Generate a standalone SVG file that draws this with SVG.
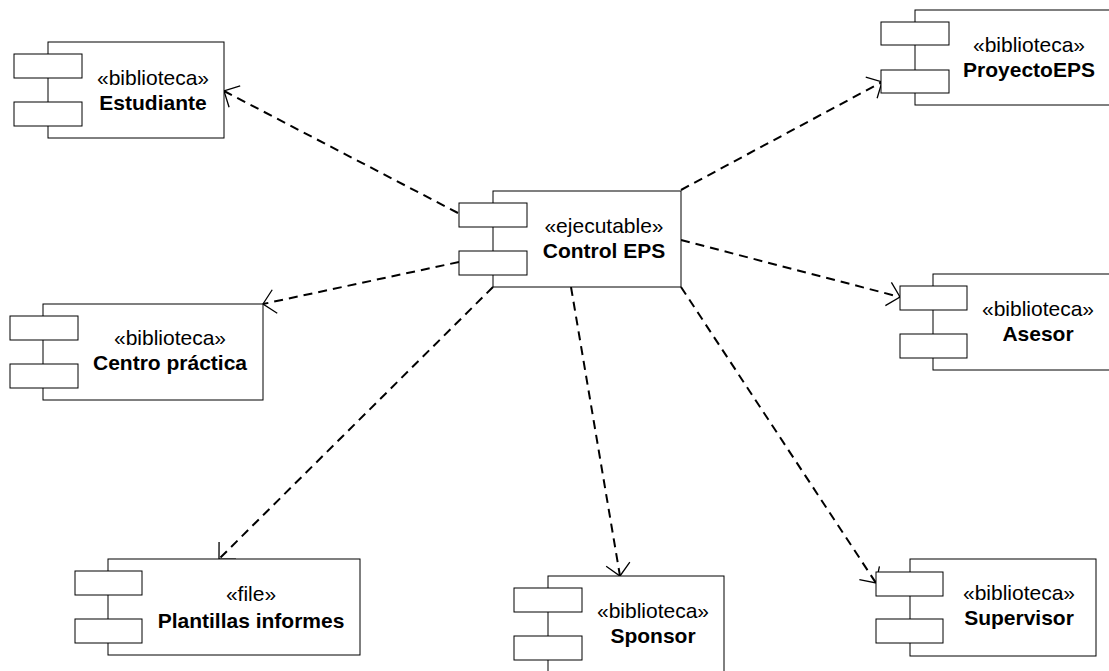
<svg xmlns="http://www.w3.org/2000/svg" width="1109" height="671" viewBox="0 0 1109 671">
  <style>
    .body { fill: #ffffff; stroke: #000000; stroke-width: 1; }
    .port { fill: #ffffff; stroke: #000000; stroke-width: 1; }
    .stereo { font-family: "Liberation Sans", Arial, sans-serif; font-size: 21px; fill: #000000; text-anchor: middle; }
    .name { font-family: "Liberation Sans", Arial, sans-serif; font-size: 21px; font-weight: bold; fill: #000000; text-anchor: middle; }
    .dep { fill: none; stroke: #000000; stroke-width: 2; stroke-dasharray: 9 6; }
  </style>
  <defs>
    <marker id="open-arrow" viewBox="-14 -14 16 28" refX="0" refY="0" markerWidth="16" markerHeight="28" markerUnits="userSpaceOnUse" orient="auto">
      <path d="M -12 -12 L 0 0 L -12 12" fill="none" stroke="#000000" stroke-width="1.3"/>
    </marker>
  </defs>

  <rect width="1109" height="671" fill="#ffffff"/>

  <!-- dependency connectors -->
  <g id="connectors">
    <line class="dep" x1="458" y1="213" x2="224" y2="91" marker-end="url(#open-arrow)"/>
    <line class="dep" x1="681" y1="190" x2="882" y2="82" marker-end="url(#open-arrow)"/>
    <line class="dep" x1="459" y1="262" x2="263" y2="304" marker-end="url(#open-arrow)"/>
    <line class="dep" x1="681" y1="240" x2="900" y2="297" marker-end="url(#open-arrow)"/>
    <line class="dep" x1="493" y1="287" x2="219" y2="559" marker-end="url(#open-arrow)"/>
    <line class="dep" x1="571" y1="287" x2="620" y2="576" marker-end="url(#open-arrow)"/>
    <line class="dep" x1="681" y1="287" x2="876" y2="583" marker-end="url(#open-arrow)"/>
  </g>

  <!-- executable -->
  <g id="control-eps">
    <rect class="body" x="493" y="191" width="188" height="96"/>
    <rect class="port" x="459" y="203" width="68" height="24"/>
    <rect class="port" x="459" y="251" width="68" height="24"/>
    <text class="stereo" x="604" y="233">«ejecutable»</text>
    <text class="name" x="604" y="258">Control EPS</text>
  </g>

  <!-- libraries -->
  <g id="estudiante">
    <rect class="body" x="48" y="42" width="176" height="96"/>
    <rect class="port" x="14" y="54" width="68" height="24"/>
    <rect class="port" x="14" y="102" width="68" height="24"/>
    <text class="stereo" x="153" y="85">«biblioteca»</text>
    <text class="name" x="153" y="110">Estudiante</text>
  </g>

  <g id="proyecto-eps">
    <rect class="body" x="915" y="10" width="200" height="95"/>
    <rect class="port" x="881" y="22" width="68" height="23"/>
    <rect class="port" x="881" y="70" width="68" height="23"/>
    <text class="stereo" x="1029" y="52">«biblioteca»</text>
    <text class="name" x="1029" y="77">ProyectoEPS</text>
  </g>

  <g id="centro-practica">
    <rect class="body" x="43" y="304" width="220" height="96"/>
    <rect class="port" x="10" y="316" width="68" height="24"/>
    <rect class="port" x="10" y="364" width="68" height="24"/>
    <text class="stereo" x="170" y="345">«biblioteca»</text>
    <text class="name" x="170" y="370">Centro práctica</text>
  </g>

  <g id="asesor">
    <rect class="body" x="933" y="274" width="190" height="96"/>
    <rect class="port" x="900" y="286" width="67" height="24"/>
    <rect class="port" x="900" y="334" width="67" height="24"/>
    <text class="stereo" x="1038" y="316">«biblioteca»</text>
    <text class="name" x="1038" y="341">Asesor</text>
  </g>

  <g id="plantillas-informes">
    <rect class="body" x="108" y="559" width="252" height="96"/>
    <rect class="port" x="75" y="571" width="67" height="24"/>
    <rect class="port" x="75" y="619" width="67" height="24"/>
    <text class="stereo" x="251" y="601">«file»</text>
    <text class="name" x="251" y="628">Plantillas informes</text>
  </g>

  <g id="sponsor">
    <rect class="body" x="548" y="576" width="176" height="100"/>
    <rect class="port" x="514" y="588" width="68" height="24"/>
    <rect class="port" x="514" y="636" width="68" height="24"/>
    <text class="stereo" x="653" y="618">«biblioteca»</text>
    <text class="name" x="653" y="643">Sponsor</text>
  </g>

  <g id="supervisor">
    <rect class="body" x="910" y="559" width="186" height="97"/>
    <rect class="port" x="876" y="572" width="67" height="24"/>
    <rect class="port" x="876" y="619" width="67" height="24"/>
    <text class="stereo" x="1019" y="600">«biblioteca»</text>
    <text class="name" x="1019" y="625">Supervisor</text>
  </g>
</svg>
